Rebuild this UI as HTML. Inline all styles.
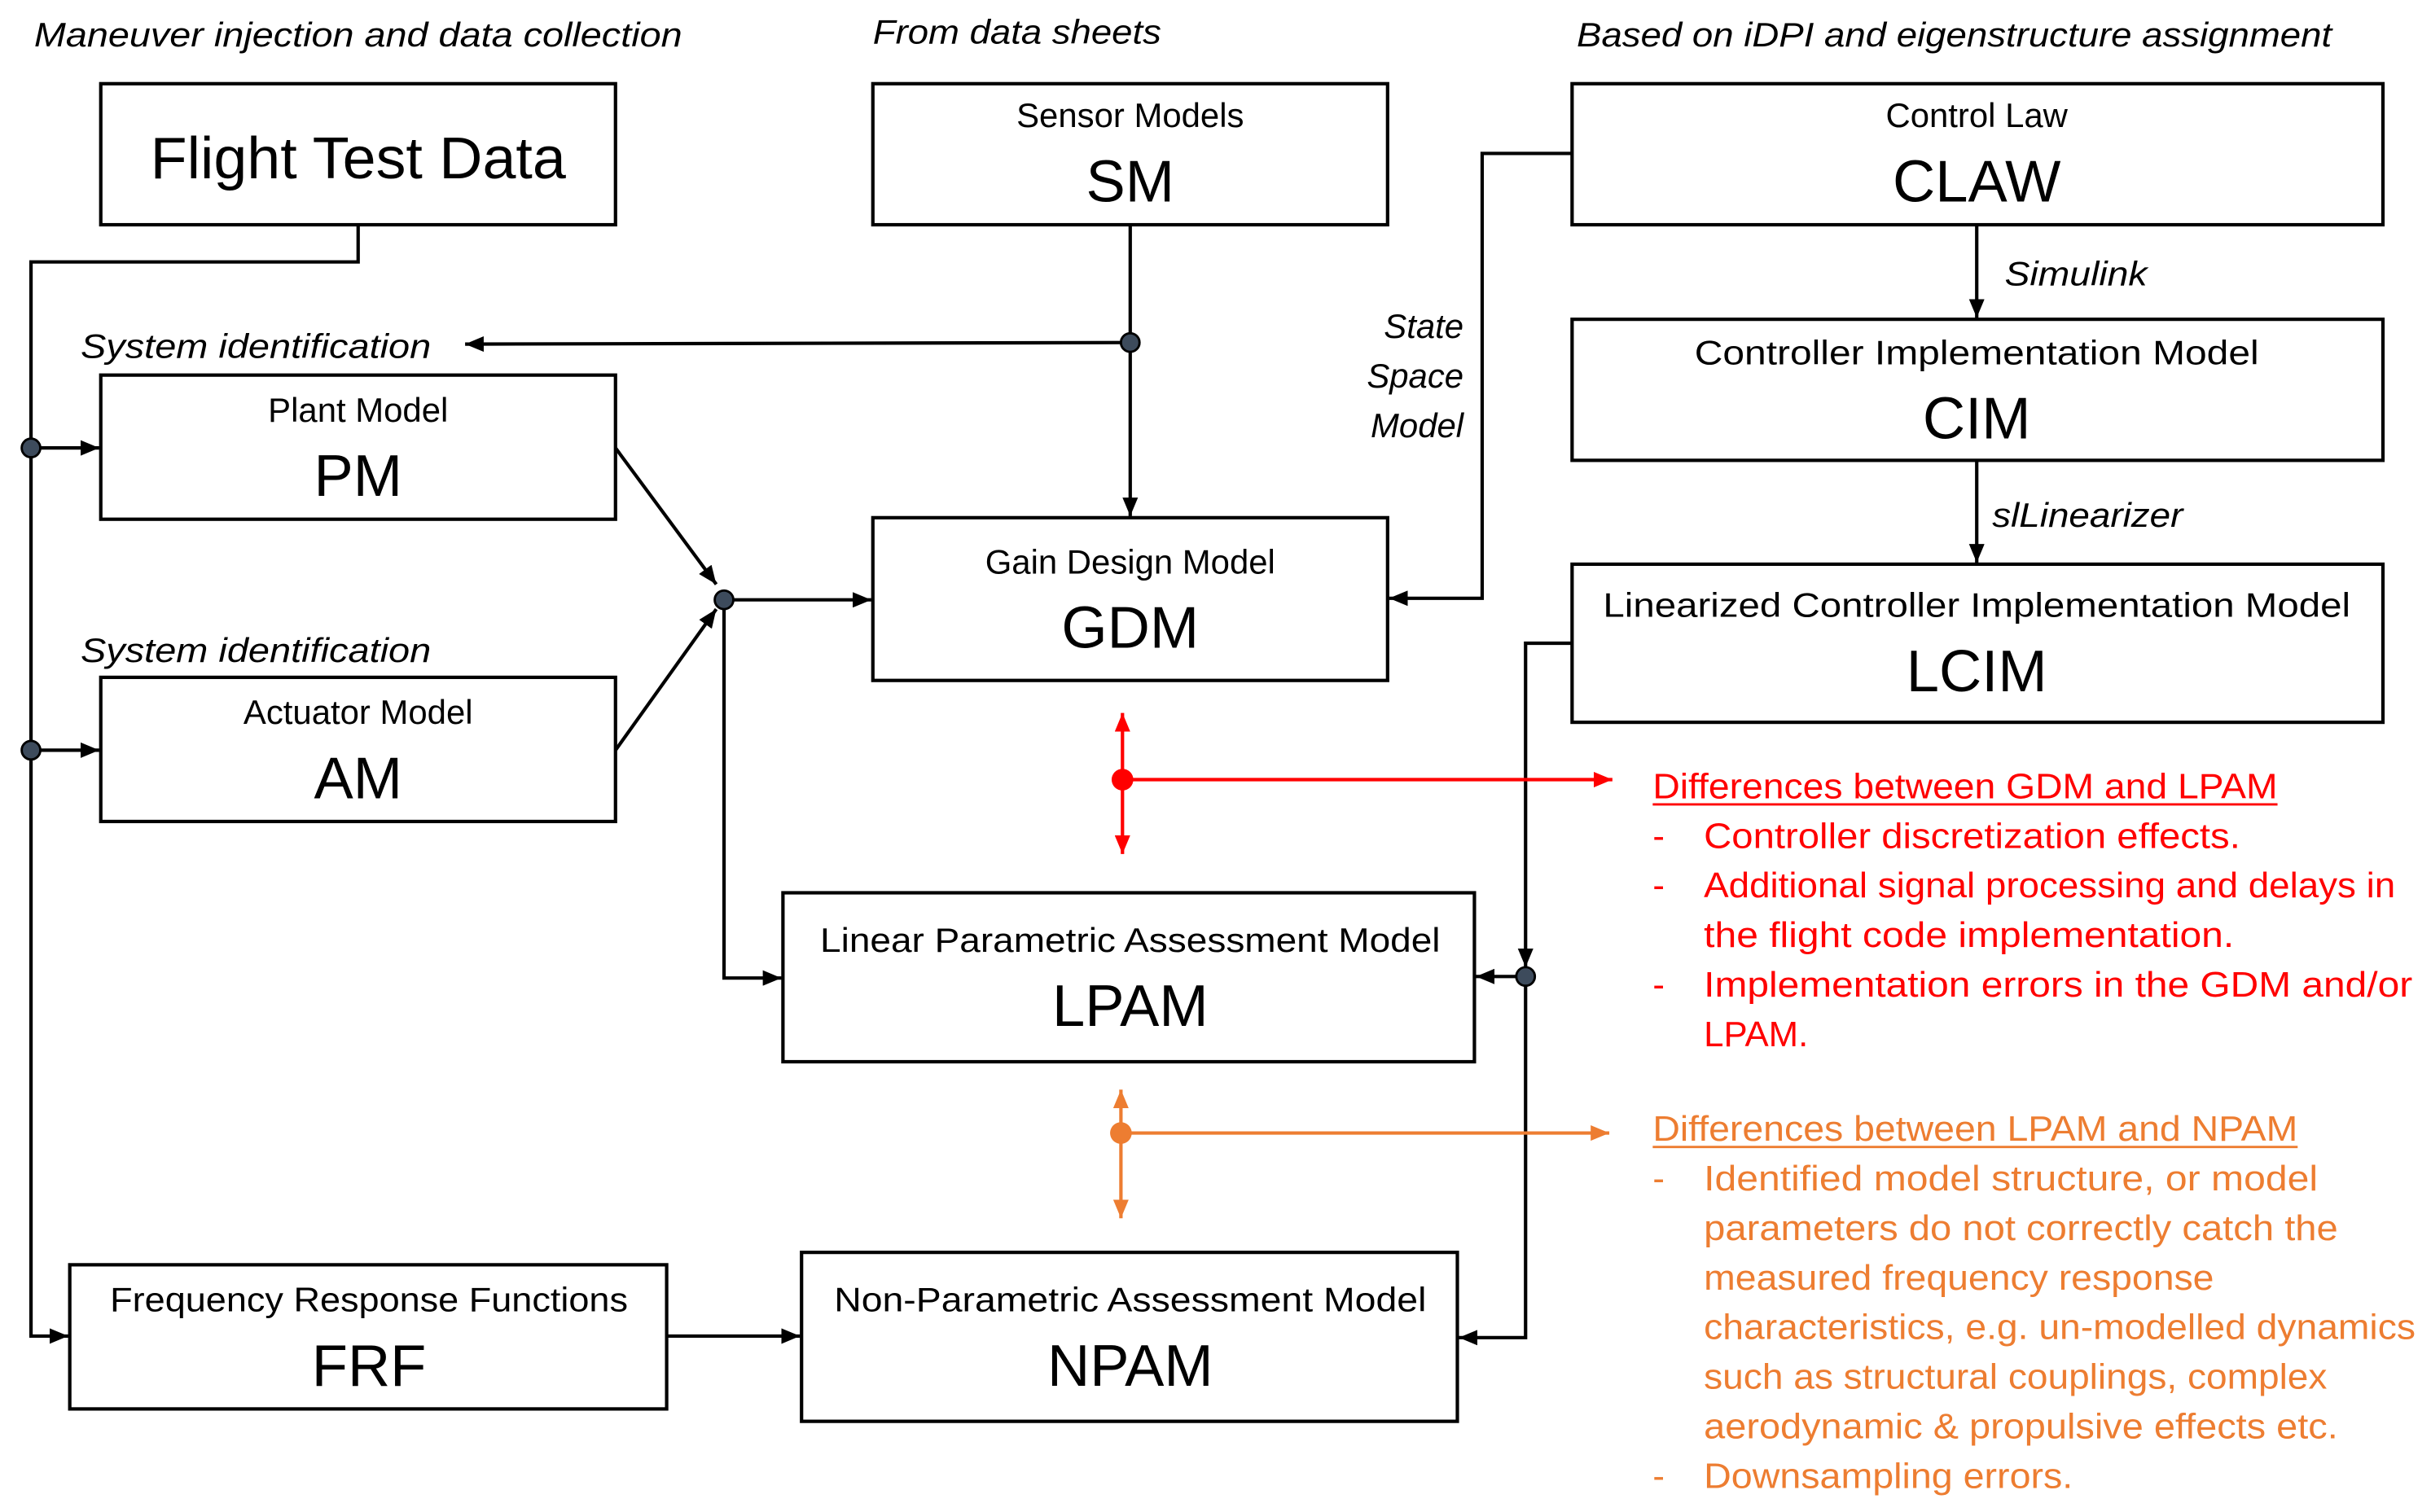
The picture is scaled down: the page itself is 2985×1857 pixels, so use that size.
<!DOCTYPE html>
<html><head><meta charset="utf-8"><style>html,body{margin:0;padding:0;background:#fff}svg{display:block}text{font-family:"Liberation Sans",sans-serif}</style></head>
<body>
<svg width="2985" height="1857" viewBox="0 0 1568 975.5" preserveAspectRatio="none" xmlns="http://www.w3.org/2000/svg">
<defs>
<marker id="ak" viewBox="0 0 12 10" refX="12" refY="5" markerWidth="12" markerHeight="10" orient="auto-start-reverse" markerUnits="userSpaceOnUse"><path d="M0,0L12,5L0,10z" fill="#000"/></marker>
<marker id="ar" viewBox="0 0 12 10" refX="12" refY="5" markerWidth="12" markerHeight="10" orient="auto-start-reverse" markerUnits="userSpaceOnUse"><path d="M0,0L12,5L0,10z" fill="#f00"/></marker>
<marker id="ao" viewBox="0 0 12 10" refX="12" refY="5" markerWidth="12" markerHeight="10" orient="auto-start-reverse" markerUnits="userSpaceOnUse"><path d="M0,0L12,5L0,10z" fill="#ed7d31"/></marker>
</defs>
<g font-style="italic" font-size="22" fill="#000">
<text x="22" y="30" textLength="418" lengthAdjust="spacingAndGlyphs">Maneuver injection and data collection</text>
<text x="563" y="28" textLength="186" lengthAdjust="spacingAndGlyphs">From data sheets</text>
<text x="1017" y="30" textLength="487" lengthAdjust="spacingAndGlyphs">Based on iDPI and eigenstructure assignment</text>
<text x="52" y="231" textLength="226" lengthAdjust="spacingAndGlyphs">System identification</text>
<text x="52" y="427" textLength="226" lengthAdjust="spacingAndGlyphs">System identification</text>
<text x="944" y="218" text-anchor="end">State</text>
<text x="944" y="250" text-anchor="end">Space</text>
<text x="944" y="282" text-anchor="end">Model</text>
<text x="1293" y="184" textLength="92" lengthAdjust="spacingAndGlyphs">Simulink</text>
<text x="1285" y="340" textLength="123" lengthAdjust="spacingAndGlyphs">slLinearizer</text>
</g>
<g fill="none" stroke="#000" stroke-width="2.2">
<rect x="65" y="54" width="332" height="91"/>
<rect x="563" y="54" width="332" height="91"/>
<rect x="1014" y="54" width="523" height="91"/>
<rect x="1014" y="206" width="523" height="91"/>
<rect x="1014" y="364" width="523" height="102"/>
<rect x="65" y="242" width="332" height="93"/>
<rect x="65" y="437" width="332" height="93"/>
<rect x="563" y="334" width="332" height="105"/>
<rect x="505" y="576" width="446" height="109"/>
<rect x="45" y="816" width="385" height="93"/>
<rect x="517" y="808" width="423" height="109"/>
</g>
<g fill="none" stroke="#000" stroke-width="2.2">
<polyline points="231,145 231,169 20,169 20,862 44,862" marker-end="url(#ak)"/>
<line x1="20" y1="289" x2="64" y2="289" marker-end="url(#ak)"/>
<line x1="20" y1="484" x2="64" y2="484" marker-end="url(#ak)"/>
<line x1="729" y1="145" x2="729" y2="333" marker-end="url(#ak)"/>
<line x1="729" y1="221" x2="300" y2="222" marker-end="url(#ak)"/>
<line x1="397" y1="289" x2="462" y2="377" marker-end="url(#ak)"/>
<line x1="397" y1="484" x2="462" y2="393" marker-end="url(#ak)"/>
<line x1="467" y1="387" x2="562" y2="387" marker-end="url(#ak)"/>
<polyline points="467,387 467,631 504,631" marker-end="url(#ak)"/>
<polyline points="1014,99 956,99 956,386 896,386" marker-end="url(#ak)"/>
<line x1="1275" y1="145" x2="1275" y2="205" marker-end="url(#ak)"/>
<line x1="1275" y1="297" x2="1275" y2="363" marker-end="url(#ak)"/>
<polyline points="1014,415 984,415 984,624" marker-end="url(#ak)"/>
<polyline points="984,624 984,863 941,863" marker-end="url(#ak)"/>
<line x1="984" y1="630" x2="952" y2="630" marker-end="url(#ak)"/>
<line x1="430" y1="862" x2="516" y2="862" marker-end="url(#ak)"/>
</g>
<g fill="#3d4b5c" stroke="#000" stroke-width="1.5">
<circle cx="20" cy="289" r="6"/><circle cx="20" cy="484" r="6"/>
<circle cx="729" cy="221" r="6"/><circle cx="467" cy="387" r="6"/>
<circle cx="984" cy="630" r="6"/>
</g>
<g stroke="#f00" stroke-width="2.2" fill="none">
<line x1="724" y1="503" x2="724" y2="460" marker-end="url(#ar)"/>
<line x1="724" y1="503" x2="724" y2="551" marker-end="url(#ar)"/>
<line x1="724" y1="503" x2="1040" y2="503" marker-end="url(#ar)"/>
</g>
<circle cx="724" cy="503" r="7" fill="#f00"/>
<g stroke="#ed7d31" stroke-width="2.2" fill="none">
<line x1="723" y1="731" x2="723" y2="703" marker-end="url(#ao)"/>
<line x1="723" y1="731" x2="723" y2="786" marker-end="url(#ao)"/>
<line x1="723" y1="731" x2="1038" y2="731" marker-end="url(#ao)"/>
</g>
<circle cx="723" cy="731" r="7" fill="#ed7d31"/>
<g font-size="22" fill="#000" text-anchor="middle">
<text x="729" y="82">Sensor Models</text>
<text x="1275" y="82">Control Law</text>
<text x="1275" y="235" textLength="364" lengthAdjust="spacingAndGlyphs">Controller Implementation Model</text>
<text x="1275" y="398" textLength="482" lengthAdjust="spacingAndGlyphs">Linearized Controller Implementation Model</text>
<text x="231" y="272">Plant Model</text>
<text x="231" y="467">Actuator Model</text>
<text x="729" y="370">Gain Design Model</text>
<text x="729" y="614" textLength="400" lengthAdjust="spacingAndGlyphs">Linear Parametric Assessment Model</text>
<text x="238" y="846" textLength="334" lengthAdjust="spacingAndGlyphs">Frequency Response Functions</text>
<text x="729" y="846" textLength="382" lengthAdjust="spacingAndGlyphs">Non-Parametric Assessment Model</text>
</g>
<g font-size="38" fill="#000" text-anchor="middle">
<text x="231" y="115" textLength="268" lengthAdjust="spacingAndGlyphs">Flight Test Data</text>
<text x="729" y="130">SM</text>
<text x="1275" y="130">CLAW</text>
<text x="1275" y="283">CIM</text>
<text x="1275" y="446">LCIM</text>
<text x="231" y="320">PM</text>
<text x="231" y="515">AM</text>
<text x="729" y="418">GDM</text>
<text x="729" y="662">LPAM</text>
<text x="238" y="894">FRF</text>
<text x="729" y="894">NPAM</text>
</g>
<g font-size="23" fill="#f00">
<text x="1066" y="515" textLength="403" lengthAdjust="spacingAndGlyphs">Differences between GDM and LPAM</text>
<line x1="1066" y1="519" x2="1469" y2="519" stroke="#f00" stroke-width="1.5"/>
<text x="1066" y="547">-</text><text x="1099" y="547" textLength="346" lengthAdjust="spacingAndGlyphs">Controller discretization effects.</text>
<text x="1066" y="579">-</text><text x="1099" y="579" textLength="446" lengthAdjust="spacingAndGlyphs">Additional signal processing and delays in</text>
<text x="1099" y="611" textLength="342" lengthAdjust="spacingAndGlyphs">the flight code implementation.</text>
<text x="1066" y="643">-</text><text x="1099" y="643" textLength="457" lengthAdjust="spacingAndGlyphs">Implementation errors in the GDM and/or</text>
<text x="1099" y="675">LPAM.</text>
</g>
<g font-size="23" fill="#ed7d31">
<text x="1066" y="736" textLength="416" lengthAdjust="spacingAndGlyphs">Differences between LPAM and NPAM</text>
<line x1="1066" y1="740" x2="1482" y2="740" stroke="#ed7d31" stroke-width="1.5"/>
<text x="1066" y="768">-</text><text x="1099" y="768" textLength="396" lengthAdjust="spacingAndGlyphs">Identified model structure, or model</text>
<text x="1099" y="800" textLength="409" lengthAdjust="spacingAndGlyphs">parameters do not correctly catch the</text>
<text x="1099" y="832" textLength="329" lengthAdjust="spacingAndGlyphs">measured frequency response</text>
<text x="1099" y="864" textLength="459" lengthAdjust="spacingAndGlyphs">characteristics, e.g. un-modelled dynamics</text>
<text x="1099" y="896" textLength="402" lengthAdjust="spacingAndGlyphs">such as structural couplings, complex</text>
<text x="1099" y="928" textLength="409" lengthAdjust="spacingAndGlyphs">aerodynamic &amp; propulsive effects etc.</text>
<text x="1066" y="960">-</text><text x="1099" y="960" textLength="238" lengthAdjust="spacingAndGlyphs">Downsampling errors.</text>
</g>
</svg>
</body></html>
